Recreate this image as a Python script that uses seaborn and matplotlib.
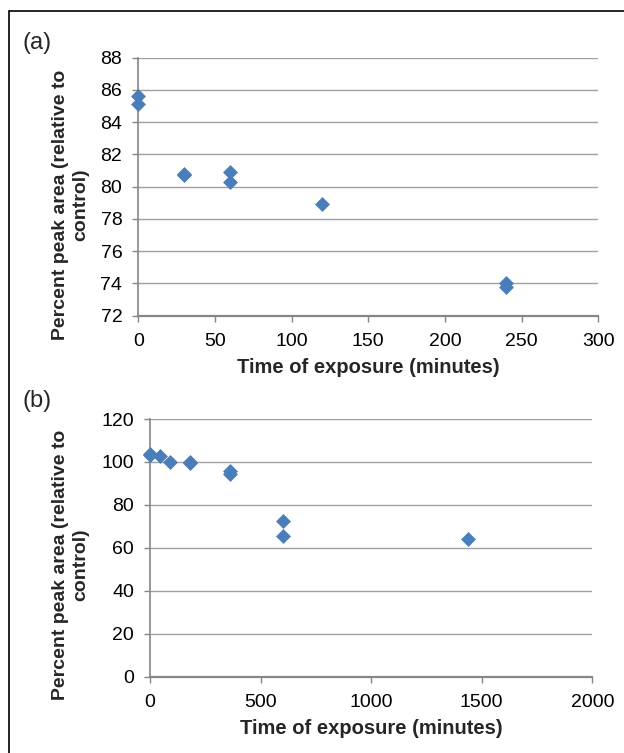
import matplotlib
matplotlib.use("Agg")
import matplotlib.pyplot as plt
import seaborn as sns
import pandas as pd
from matplotlib.patches import Rectangle

# ---- data ----
time_a = [0, 0, 30, 30, 60, 60, 120, 240, 240]
area_a = [85.6, 85.1, 80.8, 80.7, 80.9, 80.3, 78.9, 74.0, 73.8]

time_b = [0, 0, 45, 90, 180, 180, 360, 360, 600, 600, 1440]
area_b = [103.6, 103.3, 102.9, 100.0, 99.9, 99.6, 95.6, 94.2, 72.3, 65.3, 64.0]

xticks_a = [0, 50, 100, 150, 200, 250, 300]
yticks_a = [72, 74, 76, 78, 80, 82, 84, 86, 88]
xticks_b = [0, 500, 1000, 1500, 2000]
yticks_b = [0, 20, 40, 60, 80, 100, 120]

xlabel = "Time of exposure (minutes)"
ylabel = "Percent peak area (relative to\ncontrol)"
panel_labels = ["(a)", "(b)"]

sns.set_theme(style="white")
plt.rcParams['font.family'] = ['Liberation Sans', 'DejaVu Sans']

W, H = 624, 753
fig = plt.figure(figsize=(W / 100, H / 100), dpi=100)

def px_axes(left, top, right, bottom):
    return fig.add_axes([left / W, 1 - bottom / H, (right - left) / W, (bottom - top) / H])

ax_a = px_axes(138.3, 57.7, 598.3, 315.7)
ax_b = px_axes(150.0, 419.0, 592.3, 676.7)

blue = "#4A7EBB"
spine_c = "#868686"
grid_c = "#A0A0A0"

df_a = pd.DataFrame({"t": time_a, "v": area_a})
df_b = pd.DataFrame({"t": time_b, "v": area_b})

for ax, df, xt, yt, ylab_y in [(ax_a, df_a, xticks_a, yticks_a, 205),
                               (ax_b, df_b, xticks_b, yticks_b, 565)]:
    sns.scatterplot(data=df, x="t", y="v", ax=ax, marker="D", s=58,
                    color=blue, linewidth=0, clip_on=False, zorder=5)
    ax.set_xlim(xt[0], xt[-1])
    ax.set_ylim(yt[0], yt[-1])
    ax.set_xticks(xt)
    ax.set_yticks(yt)
    ax.set_xticklabels([str(v) for v in xt])
    ax.set_yticklabels([str(v) for v in yt])
    ax.grid(False)
    for v in yt[1:]:
        ax.axhline(v, color=grid_c, lw=1.0, zorder=1)
    for s in ["top", "right"]:
        ax.spines[s].set_visible(False)
    for s in ["left", "bottom"]:
        ax.spines[s].set_color(spine_c)
    ax.spines["bottom"].set_linewidth(1.6)
    ax.spines["left"].set_linewidth(1.2)
    ax.tick_params(axis="both", which="both", direction="out", length=4.5,
                   width=1.0, color=spine_c, labelsize=14, labelcolor="black",
                   bottom=True, left=True)
    ax.tick_params(axis="x", pad=8)
    ax.tick_params(axis="y", pad=7)
    ax.set_xlabel(xlabel, fontsize=14.5, fontweight="bold", labelpad=6)
    ax.set_ylabel("")
    fig.text(70.5 / W, 1 - ylab_y / H, ylabel, rotation=90, ha="center",
             va="center", fontsize=14, fontweight="bold", multialignment="center",
             linespacing=1.2)

fig.text(23 / W, 1 - 43 / H, panel_labels[0], fontsize=17, ha="left", va="center")
fig.text(23 / W, 1 - 401 / H, panel_labels[1], fontsize=17, ha="left", va="center")

# outer frame (top and left edges visible)
fig.patches.append(Rectangle((8.5 / W, -0.2), 1.5, (H - 10.5) / H + 0.2,
                             transform=fig.transFigure, fill=False,
                             edgecolor="black", lw=1.2, zorder=0))

fig.savefig("out.png", dpi=100)
